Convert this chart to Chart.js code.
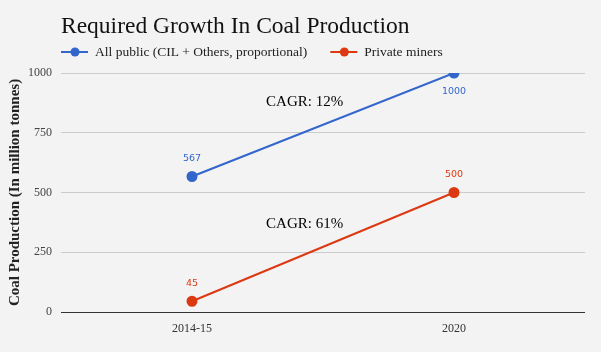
<!DOCTYPE html>
<html>
<head>
<meta charset="utf-8">
<script src="https://cdn.jsdelivr.net/npm/chart.js@4"></script>
<style>
  html, body { margin: 0; padding: 0; background: #f3f3f3; }
  #wrap { width: 601px; height: 352px; position: relative; }
</style>
</head>
<body>
<div id="wrap"><canvas id="chart"></canvas></div>
<script>
// ── Data ─────────────────────────────────────────────────────────
const categories    = ["2014-15", "2020"];
const publicValues  = [567, 1000];
const privateValues = [45, 500];
const seriesNames   = ["All public (CIL + Others, proportional)", "Private miners"];
const yTicks        = [0, 250, 500, 750, 1000];
const cagrLabels    = ["CAGR: 12%", "CAGR: 61%"];
const cagrX         = [0.43, 0.43];  // position between the two categories
const cagrValues    = [879, 368];    // y value where each note sits
const chartTitle    = "Required Growth In Coal Production";

const BLUE  = "#3366cc";
const RED   = "#dc3912";
const SERIF = "'Liberation Serif', 'DejaVu Serif', serif";
const SANS  = "'DejaVu Sans', Verdana, sans-serif";

// ── Title + legend (drawn above the plot) ────────────────────────
const header = {
    id: "header",
    afterDraw(chart) {
        const ctx = chart.ctx;
        const left = chart.chartArea.left;
        ctx.save();
        ctx.textAlign = "left";
        ctx.textBaseline = "alphabetic";
        ctx.fillStyle = "#111";
        ctx.font = "23.5px " + SERIF;
        ctx.fillText(chartTitle, left, 33);

        ctx.font = "13.5px " + SERIF;
        ctx.textBaseline = "middle";
        let x = left;
        const ly = 52;
        chart.data.datasets.forEach((ds) => {
            ctx.strokeStyle = ds.borderColor;
            ctx.lineWidth = 2;
            ctx.beginPath(); ctx.moveTo(x, ly); ctx.lineTo(x + 27, ly); ctx.stroke();
            ctx.fillStyle = ds.borderColor;
            ctx.beginPath(); ctx.arc(x + 14, ly, 4.5, 0, Math.PI * 2); ctx.fill();
            ctx.fillStyle = "#222";
            ctx.fillText(ds.label, x + 34, ly);
            x += 34 + ctx.measureText(ds.label).width + 23;
        });
        ctx.restore();
    }
};

// ── Point labels + CAGR notes ────────────────────────────────────
const annotate = {
    id: "annotate",
    afterDatasetsDraw(chart) {
        const ctx = chart.ctx;
        const x = chart.scales.x, y = chart.scales.y;
        ctx.save();
        ctx.font = "9.5px " + SANS;
        ctx.textAlign = "center";
        ctx.textBaseline = "middle";
        chart.data.datasets.forEach((ds, di) => {
            chart.getDatasetMeta(di).data.forEach((pt, i) => {
                const below = di === 0 && i === 1;
                ctx.fillStyle = ds.borderColor;
                ctx.fillText(String(ds.data[i]), pt.x, pt.y + (below ? 19 : -18));
            });
        });
        ctx.font = "15px " + SERIF;
        ctx.fillStyle = "#000";
        cagrLabels.forEach((t, i) => {
            ctx.fillText(t, x.getPixelForValue(cagrX[i]), y.getPixelForValue(cagrValues[i]));
        });
        ctx.restore();
    }
};

const bg = {
    id: "bg",
    beforeDraw(chart) {
        const ctx = chart.ctx;
        ctx.save();
        ctx.fillStyle = "#f3f3f3";
        ctx.fillRect(0, 0, chart.width, chart.height);
        ctx.restore();
    }
};

new Chart(document.getElementById("chart"), {
    type: "line",
    data: {
        labels: categories,
        datasets: [
            { label: seriesNames[0], data: publicValues, borderColor: BLUE, backgroundColor: BLUE,
              borderWidth: 2, pointRadius: 4.5, pointHoverRadius: 4.5, pointStyle: "circle" },
            { label: seriesNames[1], data: privateValues, borderColor: RED, backgroundColor: RED,
              borderWidth: 2, pointRadius: 4.5, pointHoverRadius: 4.5, pointStyle: "circle" }
        ]
    },
    options: {
        responsive: true,
        maintainAspectRatio: false,
        animation: false,
        layout: { padding: { left: 0, right: 16, top: 73, bottom: 0 } },
        plugins: {
            title: { display: false },
            legend: { display: false },
            tooltip: { enabled: false }
        },
        scales: {
            x: {
                offset: true,
                grid: { display: false, drawTicks: false },
                border: { display: false },
                ticks: { color: "#333", font: { family: SERIF, size: 12 }, padding: 10 },
                afterFit: (ax) => { ax.height = 40; }
            },
            y: {
                min: 0, max: 1000,
                afterBuildTicks: (ax) => { ax.ticks = yTicks.map(v => ({ value: v })); },
                afterFit: (ax) => { ax.width = 61; },
                grid: {
                    color: (c) => c.tick && c.tick.value === 0 ? "#333" : "#cccccc",
                    drawTicks: false
                },
                border: { display: false },
                ticks: {
                    color: "#444",
                    font: { family: SERIF, size: 12 },
                    padding: 9,
                    callback: (v) => String(v)
                },
                title: {
                    display: true,
                    text: "Coal Production (In million tonnes)",
                    color: "#222",
                    font: { family: SERIF, size: 15, weight: "bold" },
                    padding: { top: 6, bottom: 0 }
                }
            }
        }
    },
    plugins: [bg, annotate, header]
});
</script>
</body>
</html>
